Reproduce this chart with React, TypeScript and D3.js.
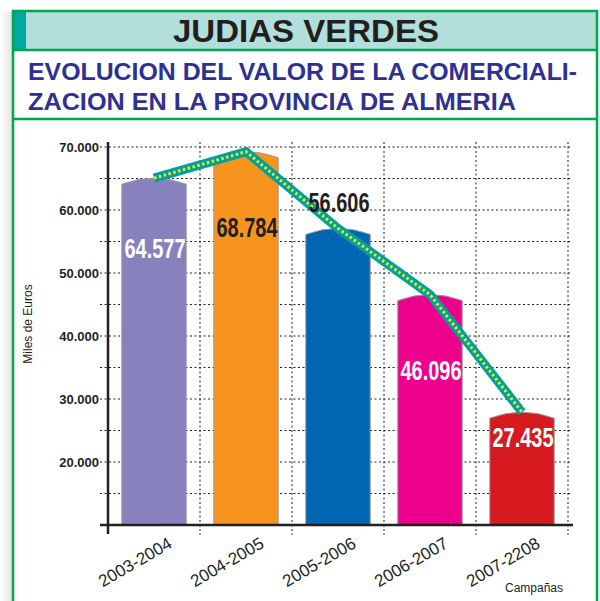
import React from 'react';
import * as d3 from 'd3';

// campaigns and value (miles de euros)
const campaigns = ['2003-2004', '2004-2005', '2005-2006', '2006-2007', '2007-2208'];
const values = [64577, 68784, 56606, 46096, 27435];
const valueLabels = ['64.577', '68.784', '56.606', '46.096', '27.435'];
const yTicks = [20000, 30000, 40000, 50000, 60000, 70000];
const yGrid = [15000, 20000, 25000, 30000, 35000, 40000, 45000, 50000, 55000, 60000, 65000, 70000];

const barColors = ['#8781bd', '#f7941d', '#0065b3', '#ec008c', '#d71920'];
const labelColors = ['#ffffff', '#231f20', '#231f20', '#ffffff', '#ffffff'];
// label baseline relative to the bar top (hand placed in the original)
const labelOffsets = [77, 82, -19, 82, 32];

const GREEN = '#00a651';
const INK = '#231f20';
const FONT = '"Liberation Sans", Arial, Helvetica, sans-serif';
const NARROW = '"Liberation Sans Narrow", "Arial Narrow", "Liberation Sans", Arial, sans-serif';

// 70000 -> "70.000"
const fmt = (v: number) => d3.format(',')(v).replace(/,/g, '.');

export default function App() {
  const W = 600;
  const H = 601;
  const base = 525;

  const x = d3.scaleBand<string>()
    .domain(campaigns)
    .range([108, 568])
    .paddingInner(0.3)
    .paddingOuter(0.15);

  const y = d3.scaleLinear().domain([10000, 70000]).range([base, 147]);

  const bw = x.bandwidth();
  const cx = (c: string) => (x(c) as number) + bw / 2;
  const boundaries = campaigns.map(c => (x(c) as number) + bw + x.step() * 0.15);

  const barPath = (c: string, v: number) => {
    const l = x(c) as number;
    const r = l + bw;
    const yp = y(v) - 3;
    const ys = y(v) + 3;
    const cy = 2 * yp - ys;
    return `M${l},${base}V${ys}Q${(l + r) / 2},${cy} ${r},${ys}V${base}Z`;
  };

  const line = d3.line<number>()
    .x((_, i) => cx(campaigns[i]))
    .y(d => y(d) - 3);
  const linePath = line(values) || '';

  return (
    <svg width={W} height={H} style={{ position: 'absolute', left: 0, top: 0 }} fontFamily={FONT}>
      <defs>
        <linearGradient id="shade" x1="0" x2="1" y1="0" y2="0">
          <stop offset="0" stopColor="#ffffff" />
          <stop offset="1" stopColor="#e4e4e4" />
        </linearGradient>
      </defs>
      <rect width={W} height={H} fill="#fff" />
      <rect x={0} y={12} width={12} height={H - 12} fill="url(#shade)" />

      {/* title band */}
      <rect x={13} y={11} width={584} height={38} fill="#b2dfdb" />
      <rect x={13} y={11} width={13} height={38} fill="#00a99d" />
      <text x={306} y={42} textAnchor="middle" fontSize={31} fontWeight="bold" fill={INK}
        textLength={266} lengthAdjust="spacingAndGlyphs">JUDIAS VERDES</text>

      <text x={28} y={80} fontSize={24.5} fontWeight="bold" fill="#2e3192"
        textLength={549} lengthAdjust="spacingAndGlyphs">EVOLUCION DEL VALOR DE LA COMERCIALI-</text>
      <text x={28} y={110} fontSize={24.5} fontWeight="bold" fill="#2e3192"
        textLength={488} lengthAdjust="spacingAndGlyphs">ZACION EN LA PROVINCIA DE ALMERIA</text>

      {/* green frame */}
      <g stroke={GREEN} strokeWidth={2.5} fill="none">
        <line x1={12} x2={598} y1={11} y2={11} />
        <line x1={12} x2={598} y1={50} y2={50} />
        <line x1={12} x2={598} y1={119} y2={119} />
        <line x1={13} x2={13} y1={10} y2={H} />
        <line x1={597} x2={597} y1={10} y2={H} />
      </g>

      {/* grid */}
      <g stroke={INK} strokeWidth={1} strokeDasharray="2,2.5">
        {yGrid.map(v => (
          <line key={v} x1={100} x2={572} y1={y(v)} y2={y(v)} />
        ))}
        {boundaries.map((b, i) => (
          <line key={i} x1={b} x2={b} y1={142} y2={535} />
        ))}
      </g>

      {yTicks.map(v => (
        <text key={v} x={99} y={y(v)} dy="0.35em" textAnchor="end" fontSize={13} fontWeight="bold" fill={INK}>
          {fmt(v)}
        </text>
      ))}

      {/* bars */}
      {campaigns.map((c, i) => (
        <path key={c} d={barPath(c, values[i])} fill={barColors[i]} stroke="#9a9a9a" strokeWidth={1} />
      ))}

      {/* axes */}
      <line x1={108} x2={108} y1={142} y2={534} stroke={INK} strokeWidth={2.5} />
      <line x1={100} x2={573} y1={base} y2={base} stroke={INK} strokeWidth={2.5} />

      {/* trend line */}
      <path d={linePath} fill="none" stroke="#00a19a" strokeWidth={9} strokeLinejoin="miter" />
      <path d={linePath} fill="none" stroke="#f2e527" strokeWidth={3} strokeDasharray="2.5,2.5" />

      {/* value labels */}
      {campaigns.map((c, i) => (
        <text key={c} x={cx(c) + 1} y={y(values[i]) + labelOffsets[i]} textAnchor="middle"
          fontFamily={NARROW} fontSize={28} fontWeight="bold" fill={labelColors[i]}
          textLength={61} lengthAdjust="spacingAndGlyphs">
          {valueLabels[i]}
        </text>
      ))}

      {/* category labels */}
      {campaigns.map(c => (
        <text key={c} transform={`translate(${cx(c) - 19},${562}) rotate(-30)`} textAnchor="middle"
          dy="0.35em" fontSize={17} fill={INK}>
          {c}
        </text>
      ))}

      <text transform="translate(32,324) rotate(-90)" textAnchor="middle" fontSize={12} fill={INK}>Miles de Euros</text>
      <text x={505} y={592} fontSize={12} fill={INK}>Campañas</text>
    </svg>
  );
}
